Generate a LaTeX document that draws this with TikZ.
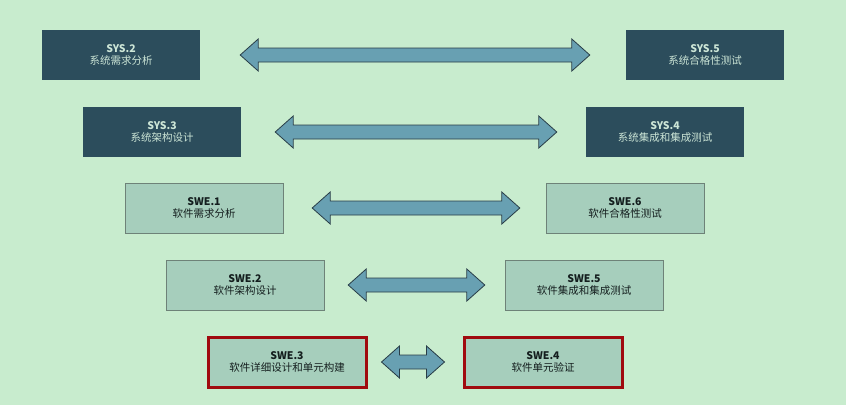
\documentclass[tikz,border=0pt]{standalone}
\usepackage{fontspec}
\setmainfont{Noto Sans CJK SC}
\definecolor{bg}{RGB}{200,236,206}
\definecolor{dk}{RGB}{44,77,92}
\definecolor{dkt}{RGB}{205,230,215}
\definecolor{lt}{RGB}{166,206,188}
\definecolor{ltb}{RGB}{110,130,120}
\definecolor{ltt}{RGB}{20,30,30}
\definecolor{rd}{RGB}{160,10,15}
\definecolor{af}{RGB}{104,160,178}
\definecolor{ad}{RGB}{40,60,70}
\begin{document}
\begin{tikzpicture}[x=1pt,y=-1pt,
 dark/.style={draw=none,fill=dk,text=dkt,minimum width=158pt,minimum height=50pt,inner sep=0pt,align=center,font=\fontsize{10.5}{12.5}\selectfont},
 light/.style={dark,fill=lt,draw=ltb,text=ltt},
 hl/.style={light,draw=rd,line width=3pt},
 arr/.style={fill=af,draw=ad,line width=0.8pt}]
\fill[bg] (0,0) rectangle (846,405);
\newcommand\ttl[2]{\textbf{#1}\\#2}
\node[dark] (s2) at (121,55) {\ttl{SYS.2}{系统需求分析}};
\node[dark] (s5) at (705,55) {\ttl{SYS.5}{系统合格性测试}};
\node[dark] (s3) at (162,132) {\ttl{SYS.3}{系统架构设计}};
\node[dark] (s4) at (665,132) {\ttl{SYS.4}{系统集成和集成测试}};
\node[light] (w1) at (204,208) {\ttl{SWE.1}{软件需求分析}};
\node[light] (w6) at (625,208) {\ttl{SWE.6}{软件合格性测试}};
\node[light] (w2) at (245,285) {\ttl{SWE.2}{软件架构设计}};
\node[light] (w5) at (584,285) {\ttl{SWE.5}{软件集成和集成测试}};
\node[hl] (w3) at (287,362) {\ttl{SWE.3}{软件详细设计和单元构建}};
\node[hl] (w4) at (543,362) {\ttl{SWE.4}{软件单元验证}};
\newcommand\dar[4]{%
 \path (#1.east) ++(#3,0) coordinate (L) (#2.west) ++(-#4,0) coordinate (R);
 \draw[arr] (L) -- ([xshift=18,yshift=-16]L) -- ([xshift=18,yshift=-7]L) -- ([xshift=-18,yshift=-7]R) -- ([xshift=-18,yshift=-16]R) -- (R) -- ([xshift=-18,yshift=16]R) -- ([xshift=-18,yshift=7]R) -- ([xshift=18,yshift=7]L) -- ([xshift=18,yshift=16]L) -- cycle;}
\dar{s2}{s5}{40}{36}
\dar{s3}{s4}{34}{29}
\dar{w1}{w6}{29}{26}
\dar{w2}{w5}{24}{20}
\dar{w3}{w4}{14}{18}
\end{tikzpicture}
\end{document}
